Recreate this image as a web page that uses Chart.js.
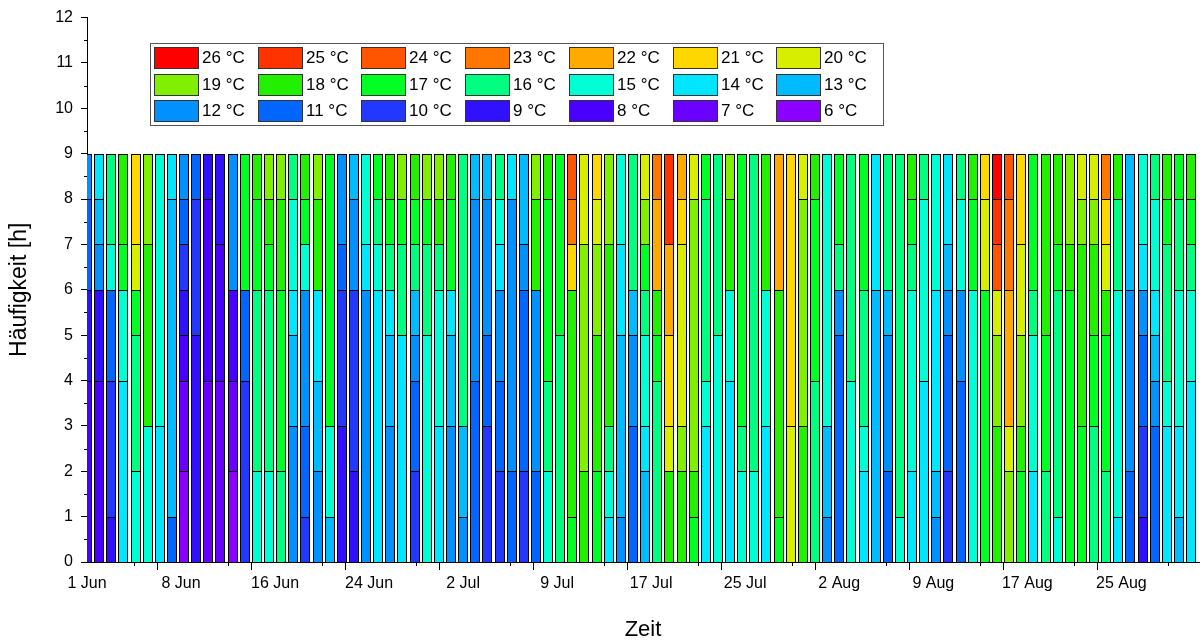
<!DOCTYPE html>
<html><head><meta charset="utf-8">
<script src="https://cdn.jsdelivr.net/npm/chart.js@4.4.1/dist/chart.umd.min.js"></script>
<style>html,body{margin:0;padding:0;background:#fff}#wrap{width:1203px;height:643px}</style>
</head><body><div id="wrap"><canvas id="c" width="1203" height="643"></canvas></div>
<script>
// Temperature classes (°C) and their colours
const temperatures = [6,7,8,9,10,11,12,13,14,15,16,17,18,19,20,21,22,23,24,25,26];
const tempColors = ['#8C00FF','#6A00FF','#4A00FF','#3010FF','#2238FF','#0066FF','#0090FF','#00BBFF','#00E6FF','#00FFD5','#00FF80','#00FF22','#22F000','#80F000','#D8EE00','#FFD700','#FFAA00','#FF7700','#FF5500','#FF3300','#FF0000'];

// Hours per day for each temperature class: [temperature, hours], bottom to top
const juni = [
 [[8,4],[9,2],[11,2],[12,1]],
 [[8,4],[9,2],[12,1],[13,1],[14,1]],
 [[9,1],[10,3],[11,2],[15,1],[16,2]],
 [[14,4],[15,2],[17,1],[18,2]],
 [[15,2],[16,3],[17,1],[20,1],[21,2]],
 [[15,3],[18,4],[19,2]],
 [[14,3],[15,6]],
 [[11,1],[13,7],[14,1]],
 [[6,2],[7,2],[8,1],[9,1],[10,1],[11,1],[12,1]],
 [[9,5],[10,3],[11,1]],
 [[7,4],[8,4],[9,1]],
 [[7,4],[8,3],[9,2]],
 [[6,2],[7,2],[8,2],[12,3]],
 [[10,4],[11,2],[17,3]],
 [[15,2],[16,4],[17,2],[18,1]],
 [[15,2],[16,4],[17,1],[18,1],[19,1]],
 [[16,2],[17,4],[18,2],[19,1]],
 [[12,3],[13,2],[14,1],[15,2],[16,1]],
 [[10,1],[11,2],[12,3],[15,1],[17,1],[18,1]],
 [[12,2],[13,2],[14,2],[18,2],[19,1]],
 [[13,1],[15,2],[17,6]],
 [[9,3],[10,3],[11,1],[12,2]],
 [[9,2],[10,4],[12,2],[13,1]],
 [[12,6],[14,1],[15,2]],
 [[14,6],[15,1],[16,1],[17,1]],
 [[12,3],[13,2],[14,1],[16,1],[17,1],[18,1]],
 [[14,5],[16,2],[17,1],[19,1]],
 [[10,2],[11,2],[12,1],[13,1],[16,1],[17,1],[18,1]],
 [[15,5],[16,2],[17,1],[19,1]],
 [[14,3],[15,3],[16,1],[18,1],[19,1]]
];
const juli = [
 [[12,3],[13,2],[14,1],[17,2],[18,1]],
 [[12,1],[13,2],[16,6]],
 [[11,4],[12,4],[13,1]],
 [[10,3],[11,2],[12,3],[13,1]],
 [[10,2],[11,2],[12,2],[14,1],[15,1],[16,1]],
 [[11,2],[12,6],[14,1]],
 [[10,2],[11,4],[12,1],[13,2]],
 [[11,2],[12,4],[18,2],[19,1]],
 [[15,2],[16,2],[17,4],[18,1]],
 [[16,5],[17,4]],
 [[17,1],[18,5],[21,1],[23,1],[24,1]],
 [[18,2],[19,5],[20,2]],
 [[17,2],[18,3],[19,2],[20,1],[21,1]],
 [[14,1],[15,1],[16,1],[18,4],[19,2]],
 [[12,1],[13,4],[14,2],[15,2]],
 [[11,3],[12,2],[13,1],[16,3]],
 [[13,2],[14,1],[15,2],[16,1],[17,1],[19,1],[20,1]],
 [[16,4],[17,1],[18,1],[22,2],[23,1]],
 [[18,2],[20,1],[21,2],[22,2],[25,2]],
 [[18,2],[19,1],[20,4],[21,1],[22,1]],
 [[17,1],[18,1],[19,6],[20,1]],
 [[14,3],[15,1],[16,4],[17,1]],
 [[15,5],[16,4]],
 [[14,4],[15,2],[18,2],[19,1]],
 [[15,2],[16,1],[17,6]],
 [[15,2],[16,7]],
 [[14,3],[15,3],[18,3]],
 [[17,1],[18,5],[22,3]],
 [[20,3],[21,6]],
 [[18,3],[19,5],[20,1]],
 [[16,4],[17,4],[18,1]]
];
const august = [
 [[12,1],[13,2],[15,6]],
 [[11,5],[12,1],[16,1],[17,2]],
 [[15,4],[16,5]],
 [[14,2],[15,1],[16,3],[17,3]],
 [[13,6],[14,3]],
 [[11,2],[12,3],[13,1],[16,3]],
 [[15,1],[16,8]],
 [[14,2],[15,4],[16,1],[17,1],[18,1]],
 [[14,4],[15,4],[16,1]],
 [[12,1],[13,1],[14,4],[15,3]],
 [[10,2],[11,3],[12,1],[13,1],[14,2]],
 [[11,4],[12,2],[15,2],[16,1]],
 [[15,6],[17,2],[18,1]],
 [[17,6],[20,2],[21,1]],
 [[18,3],[19,2],[20,1],[24,1],[25,1],[26,1]],
 [[19,2],[20,1],[22,3],[23,2],[24,1]],
 [[17,2],[18,1],[19,2],[20,2],[21,2]],
 [[14,2],[15,3],[16,1],[17,3]],
 [[16,2],[17,3],[18,4]],
 [[15,1],[16,5],[17,1],[18,2]],
 [[17,6],[18,1],[19,2]],
 [[17,3],[18,4],[19,1],[20,1]],
 [[16,3],[17,2],[18,2],[19,1],[20,1]],
 [[16,2],[17,3],[18,1],[20,1],[21,1],[23,1]],
 [[14,1],[15,5],[16,2],[18,1]],
 [[11,2],[12,4],[13,3]],
 [[9,1],[10,2],[11,2],[12,1],[14,1],[15,2]],
 [[11,3],[12,1],[13,1],[14,1],[15,2],[16,1]],
 [[14,3],[15,1],[16,3],[17,1],[18,1]],
 [[13,1],[14,2],[15,3],[16,2],[17,1]],
 [[14,4],[15,2],[16,1],[17,1],[18,1]]
];

// X axis tick labels (days since 1 Jun, every 7.75 days)
const tickLabels = ['1 Jun','8 Jun','16 Jun','24 Jun','2 Jul','9 Jul','17 Jul','25 Jul','2 Aug','9 Aug','17 Aug','25 Aug'];
const tickStep = 7.75;

const allDays = juni.concat(juli, august);
const datasets = temperatures.map((t, k) => ({
  label: t + ' °C',
  data: allDays.map((segs, i) => {
    const s = segs.find(p => p[0] === t);
    return {x: i, y: s ? s[1] : null};
  }),
  backgroundColor: tempColors[k],
  borderColor: '#000',
  borderWidth: 1,
  inflateAmount: 0,
  clip: 0
}));

const xTickValues = [];
tickLabels.forEach((_, i) => { xTickValues.push(i * tickStep); xTickValues.push(i * tickStep + tickStep / 2); });
const yTickValues = [];
for (let v = 0; v <= 12; v += 0.5) yTickValues.push(v);

const isMajorX = v => Math.abs(v / tickStep - Math.round(v / tickStep)) < 1e-6;
const isMajorY = v => Number.isInteger(v);

const FONT = "'Liberation Sans', Arial, sans-serif";

// Snap the bar rectangles computed by the scales to whole pixels, so the outlines stay crisp
const pixelSnap = {
  id: 'pixelSnap',
  beforeDatasetsDraw(chart) {
    chart.data.datasets.forEach((ds, i) => {
      chart.getDatasetMeta(i).data.forEach(el => {
        if (el.skip) return;
        const w = Math.round(el.width);
        el.width = w;
        el.x = Math.round(el.x - w / 2) + w / 2;
        el.y = Math.round(el.y);
        el.base = Math.round(el.base);
      });
    });
  }
};

const minorTicks = {
  id: 'minorTicks',
  afterDraw(chart) {
    const {ctx, scales: {x, y}} = chart;
    ctx.save();
    ctx.strokeStyle = '#000';
    ctx.lineWidth = 1;
    ctx.beginPath();
    x.ticks.forEach(t => {
      if (!isMajorX(t.value)) {
        const px = Math.round(x.getPixelForValue(t.value)) + 0.5;
        ctx.moveTo(px, x.top); ctx.lineTo(px, x.top + 4);
      }
    });
    y.ticks.forEach(t => {
      if (!isMajorY(t.value)) {
        const py = Math.round(y.getPixelForValue(t.value)) + 0.5;
        ctx.moveTo(y.right, py); ctx.lineTo(y.right - 3, py);
      }
    });
    ctx.stroke();
    ctx.restore();
  }
};

const tempLegend = {
  id: 'tempLegend',
  afterDatasetsDraw(chart) {
    const ctx = chart.ctx;
    const boxL = 150.5, boxT = 43.5, boxW = 733, boxH = 82;
    ctx.save();
    ctx.fillStyle = '#fff';
    ctx.fillRect(boxL, boxT, boxW, boxH);
    ctx.strokeStyle = '#555';
    ctx.lineWidth = 1;
    ctx.strokeRect(boxL, boxT, boxW, boxH);
    ctx.font = '17px ' + FONT;
    ctx.textBaseline = 'middle';
    ctx.textAlign = 'left';
    const items = chart.data.datasets.slice().reverse();
    items.forEach((ds, i) => {
      const col = i % 7, row = Math.floor(i / 7);
      const sx = Math.round(154 + col * 103.7), sy = 47 + row * 26.5;
      ctx.fillStyle = ds.backgroundColor;
      ctx.fillRect(sx, Math.round(sy), 44, 21);
      ctx.strokeStyle = '#333';
      ctx.strokeRect(sx + 0.5, Math.round(sy) + 0.5, 44, 21);
      ctx.fillStyle = '#000';
      ctx.fillText(ds.label, sx + 48, sy + 11.5);
    });
    ctx.restore();
  }
};

new Chart(document.getElementById('c'), {
  type: 'bar',
  data: {datasets},
  options: {
    responsive: false,
    animation: false,
    layout: {padding: {top: 17, right: 4, bottom: 0, left: 0}},
    datasets: {bar: {categoryPercentage: 1, barPercentage: 0.82}},
    plugins: {legend: {display: false}, tooltip: {enabled: false}},
    scales: {
      x: {
        type: 'linear', stacked: true, min: 0, max: 91.65, offset: false,
        afterBuildTicks: s => { s.ticks = xTickValues.map(v => ({value: v})); },
        afterFit: s => { s.height = 81; },
        ticks: {
          autoSkip: false, maxRotation: 0, minRotation: 0, padding: 4, color: '#000',
          font: {family: FONT, size: 16},
          callback: v => isMajorX(v) ? tickLabels[Math.round(v / tickStep)] : ''
        },
        grid: {drawOnChartArea: false, drawTicks: true, tickLength: 8,
               tickColor: c => (c.tick && isMajorX(c.tick.value)) ? '#000' : 'rgba(0,0,0,0)'},
        border: {display: true, color: '#000', width: 1},
        title: {display: true, text: 'Zeit', color: '#000', font: {family: FONT, size: 22}, padding: {top: 0, bottom: 0}}
      },
      y: {
        stacked: true, min: 0, max: 12,
        afterBuildTicks: s => { s.ticks = yTickValues.map(v => ({value: v})); },
        afterFit: s => { s.width = 87; },
        ticks: {
          autoSkip: false, padding: 8, color: '#000',
          font: {family: FONT, size: 16},
          callback: v => isMajorY(v) ? String(v) : ''
        },
        grid: {drawOnChartArea: false, drawTicks: true, tickLength: 6,
               tickColor: c => (c.tick && isMajorY(c.tick.value)) ? '#000' : 'rgba(0,0,0,0)'},
        border: {display: true, color: '#000', width: 1},
        title: {display: true, text: 'Häufigkeit [h]', color: '#000', font: {family: FONT, size: 23}, padding: {top: 6, bottom: 0}}
      }
    }
  },
  plugins: [pixelSnap, minorTicks, tempLegend]
});
</script>
</body></html>
